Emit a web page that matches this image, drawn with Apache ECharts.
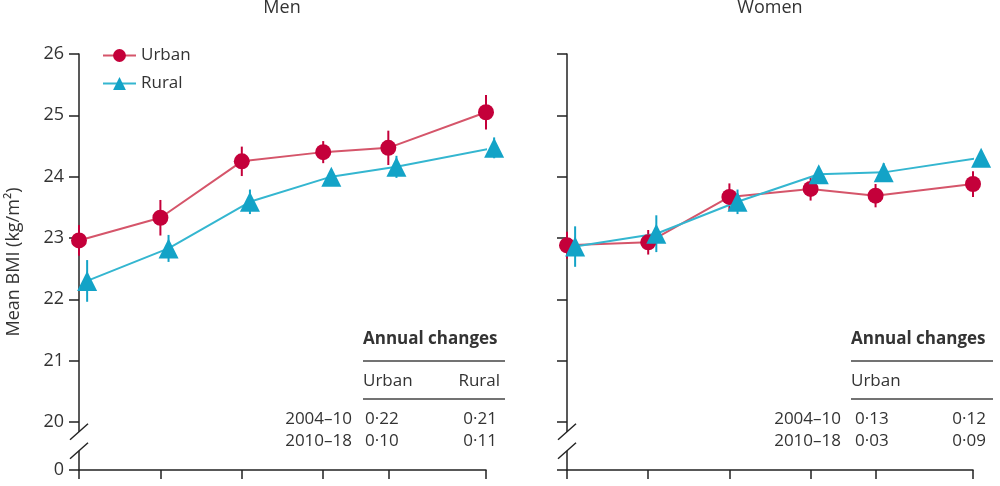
<!DOCTYPE html>
<html>
<head>
<meta charset="utf-8">
<script src="https://cdn.jsdelivr.net/npm/echarts@6/dist/echarts.min.js"></script>
<style>
html,body{margin:0;padding:0;background:#fff;}
#chart{width:1000px;height:486px;}
</style>
</head>
<body>
<div id="chart"></div>
<script>
// ---- data ----
const surveyX = [0, 3, 6, 9, 11.4, 15];          // horizontal position of each survey round
const ruralShift = 0.3;                          // small dodge of rural markers
const menUrban = [22.96, 23.33, 24.25, 24.40, 24.47, 25.05];
const menUrbanErr = [0.25, 0.29, 0.24, 0.18, 0.28, 0.28];
const menRural = [22.30, 22.83, 23.59, 24.00, 24.16, 24.47];
const menRuralErr = [0.34, 0.22, 0.20, 0.12, 0.18, 0.17];
const womenUrban = [22.88, 22.93, 23.67, 23.80, 23.69, 23.88];
const womenUrbanErr = [0.22, 0.20, 0.22, 0.19, 0.19, 0.21];
const womenRural = [22.86, 23.07, 23.59, 24.04, 24.07, 24.31];
const womenRuralErr = [0.33, 0.30, 0.20, 0.12, 0.15, 0.12];
const yTicks = [20, 21, 22, 23, 24, 25, 26];
const yBreakBase = 19.217;                       // where the "0" baseline sits after the break
const panelTitles = ['Men', 'Women'];
const periods = ['2004–10', '2010–18'];
const menChangeUrban = ['0·22', '0·10'];
const menChangeRural = ['0·21', '0·11'];
const womenChangeUrban = ['0·13', '0·03'];
const womenChangeRural = ['0·12', '0·09'];

const FONT = '"Open Sans", "Noto Sans", sans-serif';
const TXT = '#333';
const AX = '#222';
const urbanMark = '#C4003A';
const urbanLine = '#D5556A';
const ruralMark = '#13A3C7';
const ruralLine = '#34B6D0';

function pts(xs, ys, shift) { return ys.map((v, i) => [xs[i] + shift, v]); }
function errs(xs, ys, es, shift) { return ys.map((v, i) => [xs[i] + shift, v - es[i], v + es[i]]); }

const chart = echarts.init(document.getElementById('chart'), null, {renderer: 'canvas'});

function xAxisCfg(gi) {
  return {
    type: 'value', gridIndex: gi, min: 0, max: 15,
    axisLine: {show: true, onZero: false, lineStyle: {color: AX, width: 1.5}},
    axisTick: {show: true, inside: false, length: 9, customValues: surveyX, lineStyle: {color: AX, width: 1.5}},
    axisLabel: {show: false},
    splitLine: {show: false}
  };
}
function yAxisCfg(gi, showLabels) {
  const vals = [yBreakBase].concat(yTicks);
  return {
    type: 'value', gridIndex: gi, min: yBreakBase, max: 26,
    name: showLabels ? 'Mean BMI (kg/m²)' : '',
    nameLocation: 'middle', nameGap: 56, nameRotate: 90,
    nameTextStyle: {fontFamily: FONT, fontSize: 18, color: TXT},
    axisLine: {show: true, lineStyle: {color: AX, width: 1.5}},
    axisTick: {show: true, length: 10, customValues: vals, lineStyle: {color: AX, width: 1.5}},
    axisLabel: {show: showLabels, customValues: vals, margin: 15, fontFamily: FONT, fontSize: 18, color: TXT,
      formatter: v => (v < 19.5 ? '0' : String(Math.round(v)))},
    splitLine: {show: false}
  };
}
function errSeries(name, gi, data, color) {
  return {
    type: 'custom', name: name, xAxisIndex: gi, yAxisIndex: gi, z: 1, silent: true, clip: false,
    data: data,
    encode: {x: 0, y: [1, 2]},
    renderItem: function (params, api) {
      const a = api.coord([api.value(0), api.value(1)]);
      const b = api.coord([api.value(0), api.value(2)]);
      return {type: 'line', shape: {x1: a[0], y1: a[1], x2: b[0], y2: b[1]},
        style: {stroke: color, lineWidth: 2}};
    }
  };
}
function lineSeries(name, gi, data, lc, mc, sym, size) {
  return {
    type: 'line', name: name, xAxisIndex: gi, yAxisIndex: gi, z: 3, clip: false,
    data: data, symbol: sym, symbolSize: size, showSymbol: true,
    lineStyle: {color: lc, width: 2}, itemStyle: {color: mc},
    emphasis: {disabled: true}
  };
}

function txt(x, y, s, opts) {
  const size = (opts && opts.size) || 17;
  return {type: 'text', x: x, y: y, silent: true,
    style: {text: s, font: (opts && opts.bold ? 'bold ' : '') + size + 'px ' + FONT, fill: TXT,
      textAlign: (opts && opts.align) || 'left', textVerticalAlign: 'middle'}};
}
function hline(x1, x2, y) {
  return {type: 'line', silent: true, shape: {x1: x1, y1: y, x2: x2, y2: y}, style: {stroke: '#444', lineWidth: 1.5}};
}
function table(x0, xr, hdr2, rowsU, rowsR, periodRight, urbX, rurRight) {
  const g = [];
  g.push(txt(x0, 339, 'Annual changes', {bold: true}));
  g.push(hline(x0, xr, 361));
  g.push(txt(x0, 381, 'Urban'));
  if (hdr2) g.push(txt(rurRight + 3, 381, hdr2, {align: 'right'}));
  g.push(hline(x0, xr, 399));
  periods.forEach((p, i) => {
    const y = 419 + i * 22;
    g.push(txt(periodRight, y, p, {align: 'right'}));
    g.push(txt(urbX, y, rowsU[i]));
    g.push(txt(rurRight, y, rowsR[i], {align: 'right'}));
  });
  return g;
}

const option = {
  animation: false,
  backgroundColor: '#fff',
  legend: {
    data: ['Urban', 'Rural'], orient: 'vertical', left: 97, top: 42,
    itemWidth: 33, itemHeight: 16, itemGap: 11,
    textStyle: {fontFamily: FONT, fontSize: 17, color: TXT}, selectedMode: false
  },
  grid: [
    {left: 79, right: 514, top: 54, bottom: 16, containLabel: false},
    {left: 567, right: 27, top: 54, bottom: 16, containLabel: false}
  ],
  xAxis: [xAxisCfg(0), xAxisCfg(1)],
  yAxis: [yAxisCfg(0, true), yAxisCfg(1, false)],
  series: [
    errSeries('UrbanErr', 0, errs(surveyX, menUrban, menUrbanErr, 0), urbanMark),
    errSeries('RuralErr', 0, errs(surveyX, menRural, menRuralErr, ruralShift), ruralMark),
    errSeries('UrbanErr', 1, errs(surveyX, womenUrban, womenUrbanErr, 0), urbanMark),
    errSeries('RuralErr', 1, errs(surveyX, womenRural, womenRuralErr, ruralShift), ruralMark),
    lineSeries('Urban', 0, pts(surveyX, menUrban, 0), urbanLine, urbanMark, 'circle', 16),
    lineSeries('Rural', 0, pts(surveyX, menRural, ruralShift), ruralLine, ruralMark, 'triangle', 20),
    lineSeries('Urban', 1, pts(surveyX, womenUrban, 0), urbanLine, urbanMark, 'circle', 16),
    lineSeries('Rural', 1, pts(surveyX, womenRural, ruralShift), ruralLine, ruralMark, 'triangle', 20)
  ]
};
chart.setOption(option);

// axis break marks and panel titles, positioned through the axis scales
const g = [];
[0, 1].forEach(gi => {
  const top = chart.convertToPixel({gridIndex: gi}, [0, 19.84]);
  const bot = chart.convertToPixel({gridIndex: gi}, [0, 19.53]);
  const x = top[0];
  g.push({type: 'rect', silent: true, z: 100, shape: {x: x - 3, y: top[1], width: 6, height: bot[1] - top[1]}, style: {fill: '#fff'}});
  [top[1], bot[1]].forEach(y => {
    g.push({type: 'line', silent: true, z: 101, shape: {x1: x - 9, y1: y + 8, x2: x + 9, y2: y - 8}, style: {stroke: AX, lineWidth: 1.5}});
  });
});
g.push(txt(282, 8, panelTitles[0], {align: 'center', size: 18}));
g.push(txt(770, 8, panelTitles[1], {align: 'center', size: 18}));
const tbl = table(363, 505, 'Rural', menChangeUrban, menChangeRural, 352, 365, 497)
  .concat(table(851, 993, null, womenChangeUrban, womenChangeRural, 841, 855, 986));
chart.setOption({graphic: g.concat(tbl)});
</script>
</body>
</html>
